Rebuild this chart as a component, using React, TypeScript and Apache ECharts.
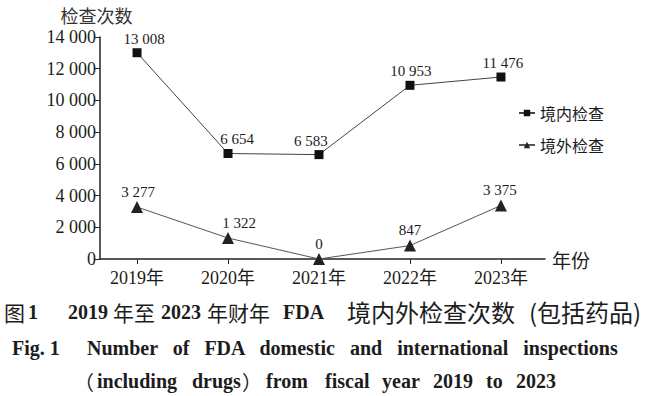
import React, { useEffect, useRef } from "react";
import * as echarts from "echarts";

const years = [2019, 2020, 2021, 2022, 2023];
const domestic = [13008, 6654, 6583, 10953, 11476];
const international = [3277, 1322, 0, 847, 3375];
const domesticLabelDx = [7, 9, -8, 1, 2];
const internationalLabelDx = [1, 11, 0, 0, -1];
const yTicks = { min: 0, max: 14000, interval: 2000 };

const FONT = "'Liberation Serif', 'Noto Sans CJK SC', serif";
const CJK = "'Noto Sans CJK SC', sans-serif";
const TXT = "#1c1c1c";

const fmt = (n: number) => String(n).replace(/\B(?=(\d{3})+(?!\d))/g, " ");

export default function App() {
  const ref = useRef<HTMLDivElement>(null);
  useEffect(() => {
    if (!ref.current) return;
    const chart = echarts.init(ref.current, undefined, { renderer: "svg" });
    const mk = (vals: number[], dx: number[]) =>
      vals.map((v, i) => ({ value: [years[i], v], label: { offset: [dx[i], 0] } }));
    const bold = (text: string, left: number, top: number) => ({
      type: "text",
      left,
      top,
      style: { text, fontFamily: FONT, fontSize: 20, fontWeight: "bold", fill: TXT },
    });
    const cjk = (text: string, left: number, top: number, size: number) => ({
      type: "text",
      left,
      top,
      style: { text, fontFamily: CJK, fontSize: size, fill: TXT },
    });
    chart.setOption({
      animation: false,
      grid: { left: 100, right: 105, top: 37, bottom: 137, containLabel: false },
      legend: {
        orient: "vertical",
        left: 513,
        top: 98,
        itemWidth: 16,
        itemHeight: 8,
        itemGap: 12,
        textStyle: { fontFamily: CJK, fontSize: 16, color: TXT, lineHeight: 20 },
        data: ["境内检查", "境外检查"],
      },
      xAxis: {
        type: "value",
        min: 2018.593,
        max: 2023.484,
        name: "年份",
        nameLocation: "end",
        nameGap: 7,
        nameTextStyle: { fontFamily: CJK, fontSize: 19, color: TXT, verticalAlign: "middle" },
        axisLine: { show: true, onZero: false, lineStyle: { color: "#222", width: 1.5 } },
        axisTick: { show: true, length: 5, customValues: years, lineStyle: { color: "#222" } },
        axisLabel: {
          customValues: years,
          formatter: (v: number) => `${v}年`,
          fontFamily: FONT,
          fontSize: 18,
          color: TXT,
          margin: 10,
        },
        splitLine: { show: false },
      },
      yAxis: {
        type: "value",
        min: yTicks.min,
        max: yTicks.max,
        interval: yTicks.interval,
        name: "检查次数",
        nameLocation: "end",
        nameGap: 13,
        nameTextStyle: { fontFamily: CJK, fontSize: 18, color: "#333", padding: [0, 7, 0, 0] },
        axisLine: { show: true, lineStyle: { color: "#222", width: 1.5 } },
        axisTick: { show: true, length: 5, lineStyle: { color: "#222" } },
        axisLabel: { formatter: (v: number) => fmt(v), fontFamily: FONT, fontSize: 18, color: TXT, margin: 4 },
        splitLine: { show: false },
      },
      series: [
        {
          name: "境内检查",
          type: "line",
          data: mk(domestic, domesticLabelDx),
          symbol: "rect",
          symbolSize: 9,
          itemStyle: { color: "#111" },
          lineStyle: { color: "#444", width: 1 },
          label: {
            show: true,
            position: "top",
            distance: 2,
            formatter: (p: any) => fmt(p.value[1]),
            fontFamily: FONT,
            fontSize: 15,
            color: TXT,
          },
        },
        {
          name: "境外检查",
          type: "line",
          data: mk(international, internationalLabelDx),
          symbol: "triangle",
          symbolSize: 12,
          itemStyle: { color: "#222" },
          lineStyle: { color: "#555", width: 1 },
          label: {
            show: true,
            position: "top",
            distance: 2,
            formatter: (p: any) => fmt(p.value[1]),
            fontFamily: FONT,
            fontSize: 15,
            color: TXT,
          },
        },
      ],
      graphic: [
        cjk("图", 4, 301, 21),
        bold("1", 28, 302),
        bold("2019", 68, 302),
        cjk("年至", 113, 301, 21),
        bold("2023", 161, 302),
        cjk("年财年", 207, 301, 21),
        bold("FDA", 283, 302),
        cjk("境内外检查次数", 347, 299, 24),
        cjk("(包括药品)", 529, 299, 24),
        bold("Fig. 1", 12, 338),
        bold("Number   of   FDA   domestic   and   international   inspections", 87, 338),
        cjk("（", 74, 371, 20),
        bold("including", 97, 371),
        bold("drugs", 192, 371),
        cjk("）", 242, 371, 20),
        bold("from", 266, 371),
        bold("fiscal", 325, 371),
        bold("year", 382, 371),
        bold("2019", 433, 371),
        bold("to", 486, 371),
        bold("2023", 516, 371),
      ],
    });
    return () => chart.dispose();
  }, []);
  return (
    <div
      ref={ref}
      style={{ position: "fixed", left: 0, top: 0, width: 650, height: 396, background: "#fff" }}
    />
  );
}
